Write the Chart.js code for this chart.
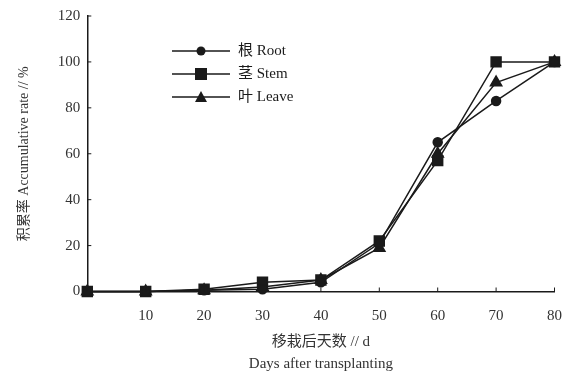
<!DOCTYPE html>
<html>
<head>
<meta charset="utf-8">
<script src="https://cdn.jsdelivr.net/npm/chart.js@4/dist/chart.umd.min.js"></script>
<style>
  html, body { margin: 0; padding: 0; background: #fff; }
  #wrap { width: 563px; height: 377px; position: relative; }
</style>
</head>
<body>
<div id="wrap"><canvas id="accChart"></canvas></div>
<script>
const days = [0, 10, 20, 30, 40, 50, 60, 70, 80];
const rootRate = [0, 0, 0.5, 1, 4, 21, 65, 83, 100];
const stemRate = [0, 0, 1, 4, 5, 22, 57, 100, 100];
const leaveRate = [0, 0, 0.5, 2, 5, 19, 60, 91, 100];
const seriesNames = ['根 Root', '茎 Stem', '叶 Leave'];

const serif = "'Liberation Serif', 'DejaVu Serif', 'Noto Sans CJK SC', serif";
const ink = '#1a1a1a';

const toPoints = (arr) => days.map((d, i) => ({ x: d, y: arr[i] }));

// inward tick marks + line-through legend, as in the printed figure
const figureExtras = {
  id: 'figureExtras',
  afterDraw(chart) {
    const { ctx, chartArea, scales } = chart;
    ctx.save();
    ctx.strokeStyle = ink;
    ctx.lineWidth = 1;
    scales.x.ticks.forEach(t => {
      const px = scales.x.getPixelForValue(t.value);
      ctx.beginPath();
      ctx.moveTo(px, chartArea.bottom);
      ctx.lineTo(px, chartArea.bottom - 4);
      ctx.stroke();
    });
    scales.y.ticks.forEach(t => {
      const py = scales.y.getPixelForValue(t.value);
      ctx.beginPath();
      ctx.moveTo(chartArea.left, py);
      ctx.lineTo(chartArea.left + 4, py);
      ctx.stroke();
    });

    const lx = 172, ly = 51, gap = 23;
    chart.data.datasets.forEach((ds, i) => {
      const y = ly + i * gap;
      ctx.strokeStyle = ink;
      ctx.lineWidth = 1.5;
      ctx.beginPath();
      ctx.moveTo(lx, y);
      ctx.lineTo(lx + 58, y);
      ctx.stroke();
      ctx.fillStyle = ink;
      const cx = lx + 29;
      if (ds.pointStyle === 'circle') {
        ctx.beginPath(); ctx.arc(cx, y, 4.5, 0, Math.PI * 2); ctx.fill();
      } else if (ds.pointStyle === 'rect') {
        ctx.fillRect(cx - 6, y - 6, 12, 12);
      } else {
        ctx.beginPath(); ctx.moveTo(cx, y - 6); ctx.lineTo(cx + 6, y + 5); ctx.lineTo(cx - 6, y + 5); ctx.closePath(); ctx.fill();
      }
      ctx.font = "15px " + serif;
      ctx.textBaseline = 'middle';
      ctx.fillText(seriesNames[i], lx + 66, y);
    });
    ctx.restore();
  }
};

const mkSet = (label, data, style, r) => ({
  label, data: toPoints(data), clip: false,
  borderColor: ink, backgroundColor: ink, borderWidth: 1.5,
  pointStyle: style, pointRadius: r, pointHoverRadius: r, tension: 0
});

new Chart(document.getElementById('accChart'), {
  type: 'line',
  data: {
    datasets: [
      mkSet(seriesNames[0], rootRate, 'circle', 4.5),
      mkSet(seriesNames[1], stemRate, 'rect', 7),
      mkSet(seriesNames[2], leaveRate, 'triangle', 6.5)
    ]
  },
  options: {
    responsive: true,
    maintainAspectRatio: false,
    animation: false,
    layout: { padding: { top: 15, right: 8, left: 16, bottom: 2 } },
    plugins: { legend: { display: false }, tooltip: { enabled: false } },
    scales: {
      x: {
        type: 'linear', min: 0, max: 80,
        grid: { display: false, drawTicks: false },
        border: { display: true, color: ink, width: 1.5 },
        afterFit: (s) => { s.paddingRight = 0; },
        ticks: {
          stepSize: 10, color: '#333', padding: 16,
          font: { family: serif, size: 15 },
          callback: v => v === 0 ? '' : v
        },
        title: {
          display: true, color: '#333', padding: { top: -10, bottom: 0 },
          text: ['移栽后天数 // d', 'Days after transplanting'],
          font: { family: serif, size: 15, lineHeight: 1.45 }
        }
      },
      y: {
        min: 0, max: 120,
        grid: { display: false, drawTicks: false },
        border: { display: true, color: ink, width: 1.5 },
        ticks: {
          stepSize: 20, color: '#333', padding: 7,
          font: { family: serif, size: 15 }
        },
        title: {
          display: true, color: '#333', padding: { top: 0, bottom: 18 },
          text: '积累率 Accumulative rate // %',
          font: { family: serif, size: 14 }
        }
      }
    }
  },
  plugins: [figureExtras]
});
</script>
</body>
</html>
